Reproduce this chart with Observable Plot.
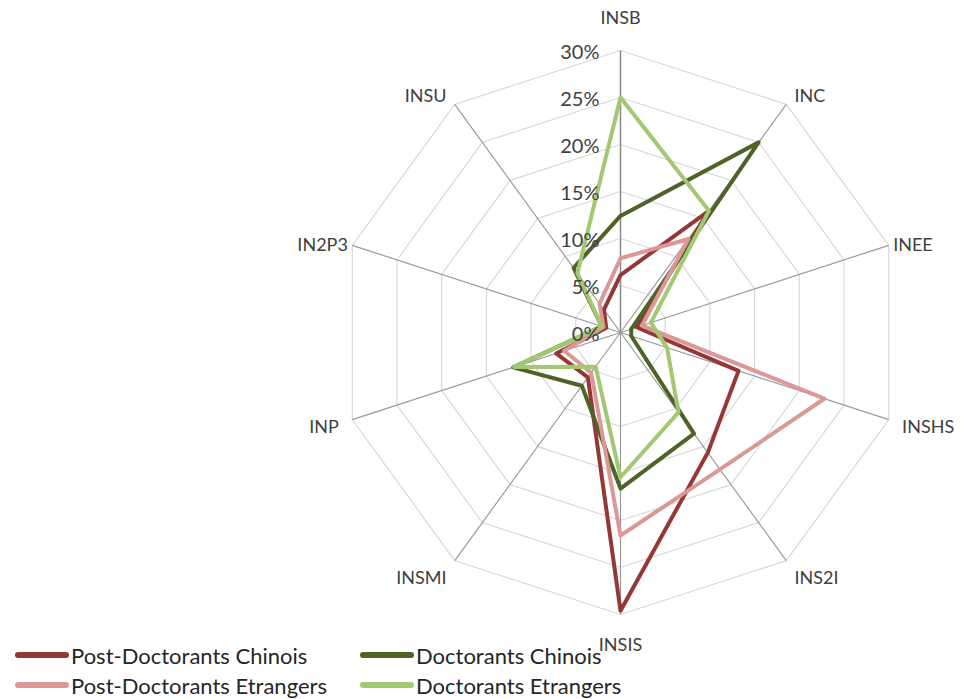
<!DOCTYPE html>
<html>
<head>
<meta charset="utf-8">
<script src="https://cdn.jsdelivr.net/npm/d3@7"></script>
<script src="https://cdn.jsdelivr.net/npm/@observablehq/plot@0.6"></script>
<style>
  html, body { margin: 0; padding: 0; background: #fff; }
  #wrap { position: relative; width: 966px; height: 699px; overflow: hidden; font-family: Lato, "Liberation Sans", sans-serif; }
  #wrap svg { position: absolute; left: 0; top: 0; }
  .leg { position: absolute; display: flex; align-items: center; font-size: 22px; color: #262626; white-space: nowrap; }
  .leg .sw { width: 54px; height: 6px; border-radius: 3px; margin-right: 2px; }
</style>
</head>
<body>
<div id="wrap"></div>
<script>
// ---- data ----
const axes = ["INSB", "INC", "INEE", "INSHS", "INS2I", "INSIS", "INSMI", "INP", "IN2P3", "INSU"];
const seriesNames = ["Post-Doctorants Chinois", "Doctorants Chinois", "Post-Doctorants Etrangers", "Doctorants Etrangers"];
const postDocChinois   = [6.1, 16.0, 1.8, 13.2, 15.8, 29.6, 5.9, 7.2, 1.6, 3.0];
const docChinois       = [12.4, 25.0, 1.2, 1.2, 13.3, 16.6, 7.0, 12.0, 2.1, 8.5];
const postDocEtrangers = [7.9, 12.3, 2.4, 22.8, 18.0, 21.6, 5.3, 6.3, 1.9, 3.8];
const docEtrangers     = [25.0, 16.0, 3.4, 5.2, 10.5, 15.4, 4.5, 11.9, 2.1, 7.8];
const tickValues = [0, 5, 10, 15, 20, 25, 30];
const tickLabels = ["0%", "5%", "10%", "15%", "20%", "25%", "30%"];
const seriesColors = ["#953735", "#4f6228", "#db9896", "#a3c872"];

// ---- layout ----
const W = 966, H = 699, cx = 620, cy = 332, R = 282, maxV = 30;
const k = R / maxV; // px per percent
const n = axes.length;
const ang = i => (i * 2 * Math.PI) / n;
const px = (v, i) => v * Math.sin(ang(i));
const py = (v, i) => v * Math.cos(ang(i));

const allSeries = [postDocChinois, docChinois, postDocEtrangers, docEtrangers];
const lineData = [];
allSeries.forEach((vals, s) => {
  for (let i = 0; i <= n; i++) {
    const j = i % n;
    lineData.push({ series: seriesNames[s], x: px(vals[j], j), y: py(vals[j], j) });
  }
});

const rings = [];
tickValues.filter(t => t > 0).forEach(t => {
  for (let i = 0; i <= n; i++) rings.push({ level: t, x: px(t, i % n), y: py(t, i % n) });
});
const spokes = axes.map((a, i) => ({ x2: px(maxV, i), y2: py(maxV, i), main: i === 0 }));

const ticks = tickValues.map((t, i) => ({ v: t, label: tickLabels[i] }));

const labels = axes.map((a, i) => {
  const s = Math.sin(ang(i)), c = Math.cos(ang(i));
  const r = (c > 0.2 && c < 0.5) ? maxV + 0.5 : maxV + 1.5;
  return {
    name: a, x: px(r, i), y: py(r, i),
    anchor: s > 0.1 ? "start" : s < -0.1 ? "end" : "middle",
    dy: c > 0.99 ? -18 : c < -0.99 ? 17 : (c < -0.7 ? 6 : (c > 0.2 && c < 0.5 ? 1 : 3))
  };
});

const chart = Plot.plot({
  width: W, height: H, margin: 0,
  x: { domain: [-cx / k, (W - cx) / k], axis: null },
  y: { domain: [-(H - cy) / k, cy / k], axis: null },
  color: { domain: seriesNames, range: seriesColors },
  style: { fontFamily: "Lato, 'Liberation Sans', sans-serif", background: "transparent" },
  marks: [
    Plot.line(rings, { x: "x", y: "y", z: "level", stroke: "#d9d9d9", strokeWidth: 1.2 }),
    Plot.link(spokes, { x1: 0, y1: 0, x2: "x2", y2: "y2", stroke: d => d.main ? "#8a8a8a" : "#9a9a9a", strokeWidth: d => d.main ? 1.5 : 1.2 }),
    Plot.line(lineData, { x: "x", y: "y", z: "series", stroke: "series", strokeWidth: 4, strokeLinejoin: "round", strokeLinecap: "round" }),
    Plot.text(ticks, { x: 0, y: "v", text: "label", textAnchor: "end", dx: -21, dy: 2, fontSize: 20, fill: "#404040" }),
    ...labels.map(l => Plot.text([l], { x: "x", y: "y", text: "name", textAnchor: l.anchor, dy: l.dy, fontSize: 18, fill: "#404040" }))
  ]
});

const wrap = document.getElementById("wrap");
wrap.appendChild(chart);

// legend (HTML, overlaid at bottom-left)
const legPos = [[15, 655], [360, 655], [15, 685], [360, 685]];
seriesNames.forEach((name, i) => {
  const d = document.createElement("div");
  d.className = "leg";
  d.style.left = legPos[i][0] + "px";
  d.style.top = (legPos[i][1] - 14) + "px";
  d.style.height = "28px";
  d.innerHTML = `<span class="sw" style="background:${seriesColors[i]}"></span><span>${name}</span>`;
  wrap.appendChild(d);
});
</script>
</body>
</html>
